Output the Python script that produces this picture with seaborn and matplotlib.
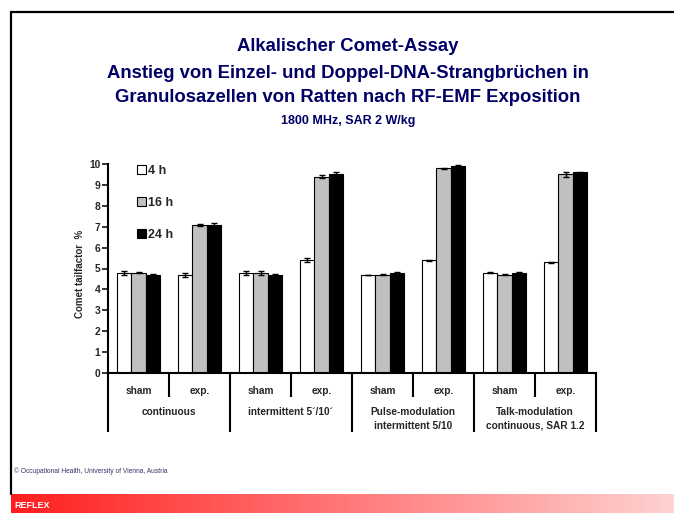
import numpy as np
import pandas as pd
import matplotlib
matplotlib.use("Agg")
import matplotlib.pyplot as plt
import seaborn as sns
from matplotlib.patches import Patch

sns.set_style("white")
plt.rcParams['font.family'] = ['Liberation Sans', 'DejaVu Sans']

# ---- data ----
groups = ["continuous", "intermittent 5\u00b4/10\u00b4",
          "Pulse-modulation\nintermittent 5/10", "Talk-modulation\ncontinuous, SAR 1.2"]
subgroups = ["sham", "exp."]
times = ["4 h", "16 h", "24 h"]
# values per condition (group x subgroup), per time
val_4h = [4.8, 4.7, 4.8, 5.4, 4.7, 5.4, 4.8, 5.3]
val_16h = [4.8, 7.1, 4.8, 9.4, 4.7, 9.8, 4.7, 9.5]
val_24h = [4.7, 7.1, 4.7, 9.5, 4.8, 9.9, 4.8, 9.6]
err_4h = [0.10, 0.10, 0.10, 0.10, 0.01, 0.02, 0.02, 0.02]
err_16h = [0.02, 0.05, 0.10, 0.08, 0.02, 0.03, 0.02, 0.10]
err_24h = [0.03, 0.08, 0.03, 0.10, 0.03, 0.03, 0.03, 0.03]
yticks = list(range(0, 11))
ylabel = "Comet tailfactor  %"
title_lines = ["Alkalischer Comet-Assay",
               "Anstieg von Einzel- und Doppel-DNA-Strangbr\u00fcchen in",
               "Granulosazellen von Ratten nach RF-EMF Exposition"]
subtitle = "1800 MHz, SAR 2 W/kg"
footer = "\u00a9 Occupational Health, University of Vienna, Austria"
banner = "REFLEX"

conds = [f"{g}|{s}" for g in groups for s in subgroups]
vals = {"4 h": val_4h, "16 h": val_16h, "24 h": val_24h}
errs = {"4 h": err_4h, "16 h": err_16h, "24 h": err_24h}
rows = []
for t in times:
    for c, v in zip(conds, vals[t]):
        rows.append({"cond": c, "time": t, "value": v})
df = pd.DataFrame(rows)

palette = {"4 h": "white", "16 h": "#c0c0c0", "24 h": "black"}
navy = "#000066"

fig = plt.figure(figsize=(6.74, 5.13), dpi=100)
fig.patch.set_facecolor("white")
W, H = 674, 513

ax = fig.add_axes([108 / W, 1 - 373 / H, (596 - 108) / W, (373 - 164) / H])
sns.barplot(data=df, x="cond", y="value", hue="time", order=conds, hue_order=times,
            palette=palette, edgecolor="black", linewidth=0.8, errorbar=None,
            width=0.69, legend=False, ax=ax)

# error bars at bar centres
for t, cont in zip(times, ax.containers):
    xs = [b.get_x() + b.get_width() / 2 for b in cont]
    hs = [b.get_height() for b in cont]
    ax.errorbar(xs, hs, yerr=errs[t], fmt="none", ecolor="black",
                elinewidth=1.0, capsize=2.5, capthick=1.0, zorder=5)

ax.set_ylim(0, 10)
ax.set_xlim(-0.5, len(conds) - 0.5)
ax.set_yticks(yticks)
ax.set_yticklabels([str(v) for v in yticks], fontsize=7.4, fontweight="bold")
ax.tick_params(axis="y", direction="out", length=4, width=1.3, pad=1.5, left=True)
ax.tick_params(axis="x", length=0, labelbottom=False)
ax.set_xlabel("")
ax.set_ylabel(ylabel, fontsize=7, fontweight="bold")
ax.yaxis.set_label_coords(-0.048, 0.474)
for side in ["top", "right"]:
    ax.spines[side].set_visible(False)
for side in ["left", "bottom"]:
    ax.spines[side].set_linewidth(1.5)
    ax.spines[side].set_color("black")

# category table below axis
trans = ax.get_xaxis_transform()
short_y = -(397 - 373) / 209
long_y = -(432 - 373) / 209
for i in range(len(conds) + 1):
    xpos = i - 0.5
    yend = long_y if i % 2 == 0 else short_y
    ax.plot([xpos, xpos], [0, yend], transform=trans, color="black",
            lw=1.5, clip_on=False, solid_capstyle="butt")
for i, c in enumerate(conds):
    ax.text(i, -(391 - 373) / 209, c.split("|")[1], transform=trans,
            ha="center", va="center", fontsize=7.3, fontweight="bold")
for gi, g in enumerate(groups):
    ax.text(2 * gi + 0.5, -(407 - 373) / 209, g, transform=trans,
            ha="center", va="top", fontsize=7.3, fontweight="bold",
            linespacing=1.45)

# legend
handles = [Patch(facecolor=palette[t], edgecolor="black", linewidth=0.8) for t in times]
ax.legend(handles, times, loc="upper left", bbox_to_anchor=(0.05, 1.02),
          frameon=False, handlelength=0.65, handleheight=0.65,
          labelspacing=1.6, handletextpad=0.2, borderaxespad=0,
          prop={"weight": "bold", "size": 9})

# titles
ty = [47, 73, 98]
for line, y in zip(title_lines, ty):
    fig.text(348 / W, 1 - y / H, line, ha="center", va="center",
             fontsize=13.3, fontweight="bold", color=navy)
fig.text(348 / W, 1 - 121 / H, subtitle, ha="center", va="center",
         fontsize=9, fontweight="bold", color=navy)

# frame lines
fig.add_artist(plt.Line2D([11 / W, 11 / W], [1 - 12 / H, 1 - 494 / H],
                          color="black", lw=1.6, transform=fig.transFigure))
fig.add_artist(plt.Line2D([11 / W, 1.0], [1 - 12 / H, 1 - 12 / H],
                          color="black", lw=1.6, transform=fig.transFigure))

# footer
fig.text(14 / W, 1 - 471 / H, footer, ha="left", va="center",
         fontsize=4.8, color="#333366")

# gradient banner
bax = fig.add_axes([11 / W, 0, 1 - 11 / W, (513 - 494) / H])
grad = np.linspace(0, 1, 256)
c0 = np.array([1.0, 0.12, 0.12])
c1 = np.array([1.0, 0.82, 0.82])
img = (c0[None, :] * (1 - grad[:, None]) + c1[None, :] * grad[:, None])[None, :, :]
bax.imshow(img, aspect="auto", extent=[0, 1, 0, 1])
bax.set_axis_off()
fig.text(14 / W, 1 - 506 / H, banner, ha="left", va="center",
         fontsize=6.5, fontweight="bold", color="white")

fig.savefig("out.png", dpi=100)
